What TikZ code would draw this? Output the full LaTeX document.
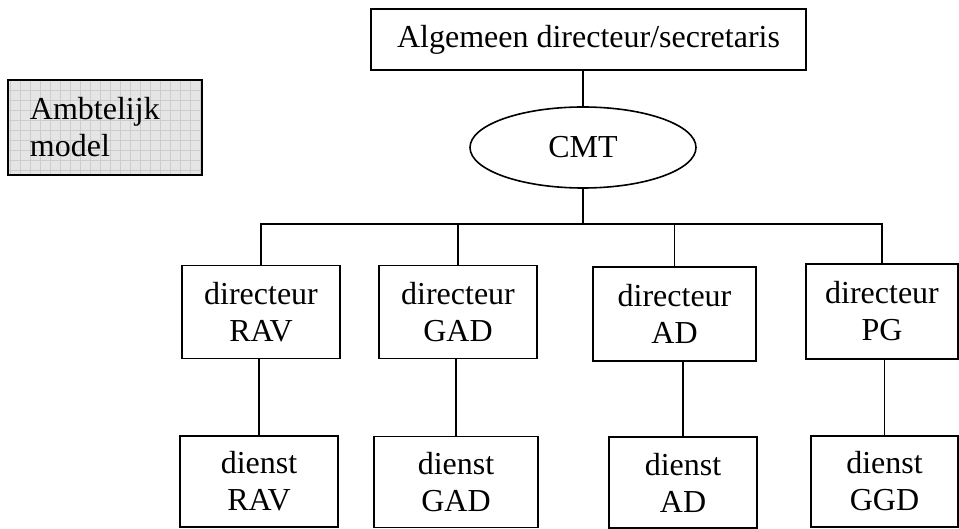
\documentclass[tikz,border=0pt]{standalone}
\usepackage{fontspec}
\setmainfont{Liberation Serif}
\usetikzlibrary{shapes.geometric}

\begin{document}
\begin{tikzpicture}[
x=1pt, y=1pt,
font=\fontsize{32}{37}\selectfont,
every path/.style={line width=1.6pt},
orgbox/.style={draw, line width=1.6pt, align=center, inner sep=0pt, minimum width=#1},
dirbox/.style={orgbox=#1, minimum height=93pt},
dienstbox/.style={orgbox=#1, minimum height=91pt},
gridfill/.style={path picture={
  \fill[gray!20] (path picture bounding box.south west) rectangle (path picture bounding box.north east);
  \draw[gray!40, line width=0.6pt, step=10pt] (path picture bounding box.south west) grid (path picture bounding box.north east);}}
]
\useasboundingbox (0,0) rectangle (959,528);

% top of the organisation
\node[orgbox=435pt, minimum height=61pt] (algdir) at (588.5,488.5) {Algemeen directeur/secretaris};
\node[draw, ellipse, line width=1.6pt, minimum width=226pt, minimum height=81pt, inner sep=0pt] (cmt) at (583,380.5) {CMT};
\node[draw, line width=1.6pt, gridfill, align=left, text width=150pt, inner xsep=22pt, minimum height=95pt] (model) at (105,400.5) {Ambtelijk\\model};

% directeuren
\node[dirbox=158pt] (dirrav) at (261,216) {directeur\\RAV};
\node[dirbox=158pt] (dirgad) at (458,216) {directeur\\GAD};
\node[dirbox=163pt, minimum height=94pt] (dirad) at (674.5,214) {directeur\\AD};
\node[dirbox=152pt, minimum height=95pt] (dirpg) at (882,216.5) {directeur\\PG};

% diensten
\node[dienstbox=158pt] (dnrav) at (259,46.5) {dienst\\RAV};
\node[dienstbox=164pt] (dngad) at (456,46) {dienst\\GAD};
\node[dienstbox=148pt] (dnad) at (683,45.5) {dienst\\AD};
\node[dienstbox=147pt] (dnggd) at (884.5,46.5) {dienst\\GGD};

\coordinate (bus) at (583,304);

\draw (cmt.north |- algdir.south) -- (cmt.north);
\draw (cmt.south) -- (bus);
\draw (dirrav.north) |- (bus) -| (dirpg.north);
\draw (dirgad.north) -- (dirgad.north |- bus);
\draw (dirad.north) -- (dirad.north |- bus);

\draw (dnrav.north) -- (dnrav.north |- dirrav.south);
\draw (dngad.north) -- (dngad.north |- dirgad.south);
\draw (dnad.north) -- (dnad.north |- dirad.south);
\draw (dnggd.north) -- (dnggd.north |- dirpg.south);
\end{tikzpicture}
\end{document}
